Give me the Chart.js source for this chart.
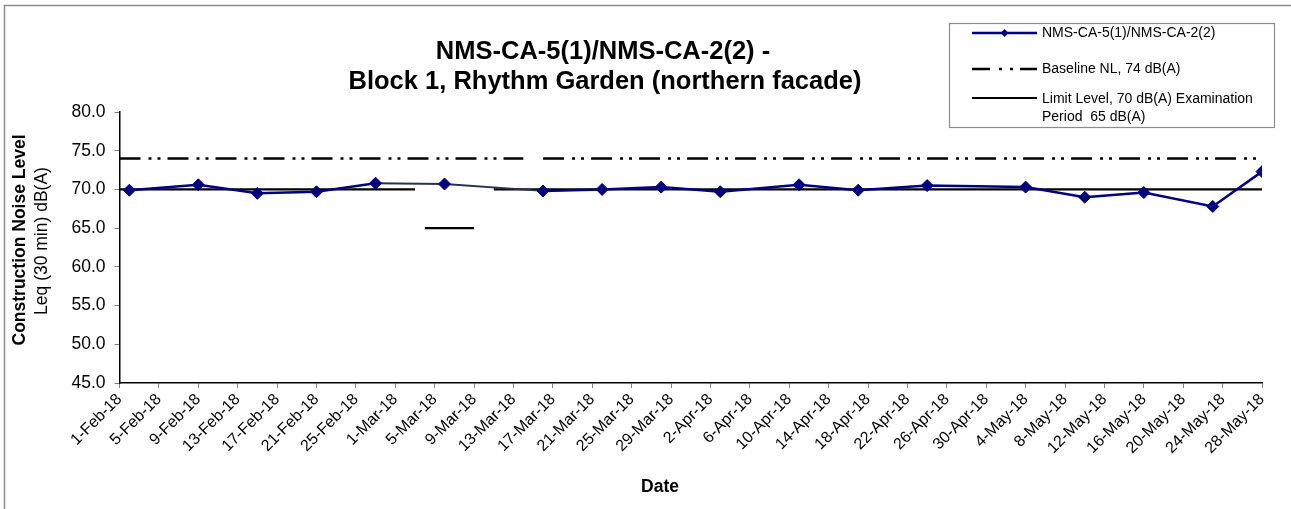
<!DOCTYPE html>
<html>
<head>
<meta charset="utf-8">
<script src="https://cdn.jsdelivr.net/npm/chart.js@4.4.1/dist/chart.umd.min.js"></script>
<style>
  html, body { margin: 0; padding: 0; background: #fff; }
  #wrap { position: relative; width: 1291px; height: 509px; }
</style>
</head>
<body>
<div id="wrap"><canvas id="noiseChart"></canvas></div>
<script>
// measured Leq values (dB(A)) and their dates
const sampleDates = [
  "2018-02-02", "2018-02-09", "2018-02-15", "2018-02-21", "2018-02-27", "2018-03-06",
  "2018-03-16", "2018-03-22", "2018-03-28", "2018-04-03", "2018-04-11", "2018-04-17",
  "2018-04-24", "2018-05-04", "2018-05-10", "2018-05-16", "2018-05-23", "2018-05-28"
];
const noiseLevels = [
  69.9, 70.6, 69.5, 69.7, 70.8, 70.7,
  69.8, 70.0, 70.3, 69.7, 70.6, 69.9,
  70.5, 70.3, 69.0, 69.6, 67.8, 72.3
];

// baseline 74 dB(A), with a short break in mid March
const baselineDates = ["2018-02-01", "2018-03-14", "2018-03-15", "2018-03-16", "2018-05-28"];
const baselineValues = [74, 74, null, 74, 74];

// limit 70 dB(A), 65 dB(A) during the examination period
const limitDates = ["2018-02-01", "2018-03-03", "2018-03-03", "2018-03-04", "2018-03-09", "2018-03-10", "2018-03-11", "2018-05-28"];
const limitValues = [70, 70, null, 65, 65, null, 70, 70];

const tickLabels = [
  "1-Feb-18", "5-Feb-18", "9-Feb-18", "13-Feb-18", "17-Feb-18", "21-Feb-18", "25-Feb-18",
  "1-Mar-18", "5-Mar-18", "9-Mar-18", "13-Mar-18", "17-Mar-18", "21-Mar-18", "25-Mar-18", "29-Mar-18",
  "2-Apr-18", "6-Apr-18", "10-Apr-18", "14-Apr-18", "18-Apr-18", "22-Apr-18", "26-Apr-18", "30-Apr-18",
  "4-May-18", "8-May-18", "12-May-18", "16-May-18", "20-May-18", "24-May-18", "28-May-18"
];

const seriesNames = ["NMS-CA-5(1)/NMS-CA-2(2)", "Baseline NL, 74 dB(A)", "Limit Level, 70 dB(A) Examination", "Period  65 dB(A)"];
const titleLines = ["NMS-CA-5(1)/NMS-CA-2(2) -", "Block 1, Rhythm Garden (northern facade)"];

const FONT = "'Liberation Sans', Arial, sans-serif";
const NAVY = "#000080";
const START = Date.UTC(2018, 1, 1);

function dayOf(s) {
  const p = s.split("-");
  return Math.round((Date.UTC(+p[0], +p[1] - 1, +p[2]) - START) / 86400000);
}
function toPoints(dates, values) {
  return dates.map((d, i) => ({ x: dayOf(d), y: values[i] }));
}

const BASE_DASH = [21, 8, 3, 6, 3, 7];

const decorPlugin = {
  id: "decor",
  beforeDraw(chart) {
    const ctx = chart.ctx;
    ctx.save();
    ctx.fillStyle = "#fff";
    ctx.fillRect(0, 0, chart.width, chart.height);
    ctx.strokeStyle = "#8c8c8c";
    ctx.lineWidth = 1.5;
    ctx.beginPath();
    ctx.moveTo(4.5, chart.height);
    ctx.lineTo(4.5, 5.5);
    ctx.lineTo(chart.width, 5.5);
    ctx.stroke();
    ctx.restore();
  },
  afterDraw(chart) {
    const ctx = chart.ctx;
    ctx.save();
    ctx.fillStyle = "#000";
    // title
    ctx.textAlign = "center";
    ctx.textBaseline = "alphabetic";
    ctx.font = "bold 25.5px " + FONT;
    ctx.fillText(titleLines[0], 603, 59);
    ctx.fillText(titleLines[1], 605, 89);

    // axis titles
    ctx.textBaseline = "middle";
    ctx.font = "bold 17.5px " + FONT;
    ctx.fillText("Date", 660, 487);
    ctx.save();
    ctx.translate(20, 240);
    ctx.rotate(-Math.PI / 2);
    ctx.fillText("Construction Noise Level", 0, 0);
    ctx.restore();
    ctx.save();
    ctx.translate(42, 241);
    ctx.rotate(-Math.PI / 2);
    ctx.font = "17.5px " + FONT;
    ctx.fillText("Leq (30 min) dB(A)", 0, 0);
    ctx.restore();

    // legend box
    ctx.fillStyle = "#fff";
    ctx.fillRect(949, 23, 325, 104);
    ctx.strokeStyle = "#8c8c8c";
    ctx.lineWidth = 1.2;
    ctx.strokeRect(949.5, 23.5, 325, 104);

    const x0 = 972, x1 = 1037, tx = 1042;
    ctx.lineCap = "butt";
    // series
    ctx.strokeStyle = NAVY;
    ctx.lineWidth = 2.5;
    ctx.beginPath(); ctx.moveTo(x0, 33); ctx.lineTo(x1, 33); ctx.stroke();
    ctx.fillStyle = NAVY;
    ctx.beginPath();
    ctx.moveTo(1004.5 - 4, 33); ctx.lineTo(1004.5, 29); ctx.lineTo(1004.5 + 4, 33); ctx.lineTo(1004.5, 37);
    ctx.closePath(); ctx.fill();
    // baseline
    ctx.strokeStyle = "#000";
    ctx.setLineDash([18, 9, 3, 8, 3, 7]);
    ctx.beginPath(); ctx.moveTo(x0, 69); ctx.lineTo(x1, 69); ctx.stroke();
    ctx.setLineDash([]);
    // limit
    ctx.lineWidth = 2.2;
    ctx.beginPath(); ctx.moveTo(x0, 98); ctx.lineTo(x1, 98); ctx.stroke();

    ctx.fillStyle = "#000";
    ctx.textAlign = "left";
    ctx.font = "14px " + FONT;
    ctx.fillText(seriesNames[0], tx, 33);
    ctx.fillText(seriesNames[1], tx, 69);
    ctx.fillText(seriesNames[2], tx, 99);
    ctx.fillText(seriesNames[3], tx, 117);
    ctx.restore();
  }
};

const greySegs = [4, 5];

new Chart(document.getElementById("noiseChart"), {
  type: "line",
  data: {
    datasets: [
      {
        label: seriesNames[0],
        data: toPoints(sampleDates, noiseLevels),
        borderColor: NAVY,
        backgroundColor: NAVY,
        borderWidth: 2.5,
        pointStyle: "rectRot",
        pointRadius: 6,
        pointBorderWidth: 1,
        pointBorderColor: NAVY,
        pointBackgroundColor: NAVY,
        tension: 0,
        order: 0,
        segment: {
          borderColor: c => greySegs.includes(c.p0DataIndex) ? "#26344d" : undefined,
          borderWidth: c => greySegs.includes(c.p0DataIndex) ? 1.8 : undefined
        }
      },
      {
        label: seriesNames[1],
        data: toPoints(baselineDates, baselineValues),
        borderColor: "#000",
        borderWidth: 2.5,
        borderDash: BASE_DASH,
        pointRadius: 0,
        spanGaps: false,
        order: 2
      },
      {
        label: seriesNames[2],
        data: toPoints(limitDates, limitValues),
        borderColor: "#000",
        borderWidth: 2.2,
        pointRadius: 0,
        spanGaps: false,
        order: 1
      }
    ]
  },
  options: {
    responsive: true,
    maintainAspectRatio: false,
    animation: false,
    layout: { padding: { top: 112, right: 29, left: 0, bottom: 0 } },
    plugins: {
      legend: { display: false },
      title: { display: false },
      tooltip: { enabled: false }
    },
    scales: {
      x: {
        type: "linear",
        min: 0,
        max: 116,
        afterFit: s => { s.height = 126; },
        border: { color: "#000", width: 1.5 },
        grid: { drawOnChartArea: false, drawTicks: true, tickLength: 5, color: "#808080" },
        ticks: {
          stepSize: 4,
          autoSkip: false,
          maxRotation: 45,
          minRotation: 45,
          padding: 2,
          color: "#000",
          font: { family: FONT, size: 16 },
          callback: v => tickLabels[Math.round(v / 4)]
        }
      },
      y: {
        min: 45,
        max: 80,
        afterFit: s => { s.width = 119.5; },
        border: { color: "#000", width: 1.5 },
        grid: { drawOnChartArea: false, drawTicks: true, tickLength: 5, color: "#808080" },
        ticks: {
          stepSize: 5,
          padding: 9,
          color: "#000",
          font: { family: FONT, size: 17.5 },
          callback: v => v.toFixed(1)
        }
      }
    }
  },
  plugins: [decorPlugin]
});
</script>
</body>
</html>
